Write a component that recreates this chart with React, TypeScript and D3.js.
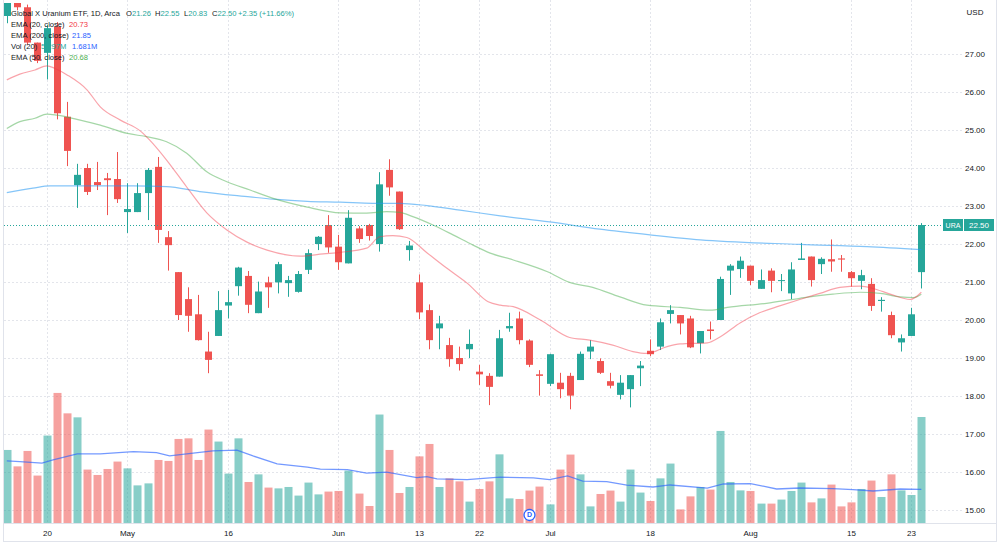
// URA daily candlestick chart with EMAs and volume, drawn with D3
import React, { useEffect, useRef } from 'react';
import * as d3 from 'd3';

// one entry per trading day, Apr 13 -> Aug 24 (index 0..91)
const opens = [
  28.0, 28.45, 28.23, 27.3, 27.03, 27.72, 25.35, 23.55, 24.0, 23.63, 23.73, 23.71,
  22.84, 22.84, 23.34, 24.03, 22.18, 21.26, 20.55, 20.15, 19.17, 19.58, 20.38, 20.89,
  21.16, 20.18, 20.99, 20.99, 20.97, 20.74, 21.32, 22.0, 22.5, 21.93, 21.49, 22.41,
  22.5, 22.0, 23.95, 23.38, 21.84, 20.99, 20.26, 19.78, 19.34, 19.0, 19.23, 18.64,
  18.53, 18.51, 19.78, 20.04, 19.46, 18.57, 18.32, 18.35, 18.53, 18.42, 19.17, 18.92,
  18.39, 18.03, 18.18, 18.73, 19.19, 19.3, 20.16, 20.13, 20.04, 19.39, 19.75, 20.0,
  21.3, 21.34, 21.43, 20.82, 21.3, 21.03, 20.7, 21.58, 21.67, 21.47, 21.6, 21.62,
  21.26, 21.03, 20.95, 20.5, 20.13, 19.41, 19.58, 21.26,
];
const highs = [
  28.5, 28.5, 28.3, 27.3, 27.76, 27.84, 25.74, 24.11, 24.11, 24.16, 23.87, 24.42,
  23.6, 23.6, 24.0, 24.29, 22.34, 21.26, 20.86, 20.66, 19.69, 20.76, 20.79, 21.4,
  21.29, 21.01, 21.14, 21.53, 21.16, 21.29, 21.86, 22.21, 22.76, 22.24, 22.89, 22.47,
  22.53, 23.89, 24.23, 23.38, 22.08, 21.2, 20.41, 20.11, 19.53, 19.3, 19.75, 18.82,
  18.6, 19.74, 20.19, 20.22, 19.49, 18.68, 19.11, 18.61, 18.61, 19.17, 19.47, 18.99,
  18.61, 18.55, 18.55, 18.92, 19.49, 20.04, 20.39, 20.13, 20.11, 19.71, 19.96, 21.14,
  21.47, 21.67, 21.43, 21.33, 21.36, 21.21, 21.52, 22.03, 21.67, 21.65, 22.12, 21.71,
  21.29, 21.32, 21.1, 20.6, 20.22, 19.62, 20.32, 22.55,
];
const lows = [
  27.81, 28.15, 27.25, 26.76, 26.33, 25.28, 24.05, 22.95, 23.29, 23.42, 22.76, 23.08,
  22.29, 22.84, 22.63, 22.03, 21.3, 20.0, 19.69, 19.46, 18.6, 19.58, 20.04, 20.64,
  20.18, 20.18, 20.32, 20.7, 20.61, 20.72, 21.21, 21.84, 21.77, 21.32, 21.49, 22.03,
  22.09, 21.8, 23.27, 22.37, 21.56, 20.02, 19.23, 19.23, 18.77, 18.67, 19.0, 18.29,
  17.76, 18.51, 19.69, 19.36, 18.76, 18.01, 18.26, 17.94, 17.65, 18.42, 18.97, 18.58,
  18.2, 17.91, 17.7, 18.26, 19.05, 19.21, 19.91, 19.62, 19.26, 19.12, 19.49, 20.0,
  20.66, 21.11, 20.92, 20.82, 20.73, 20.76, 20.55, 21.58, 20.88, 21.21, 21.27, 21.27,
  20.88, 20.81, 20.24, 20.22, 19.52, 19.17, 19.58, 20.83,
];
const closes = [
  28.45, 28.23, 27.3, 26.82, 27.68, 25.44, 24.45, 23.82, 23.37, 23.55, 23.68, 23.18,
  22.92, 23.34, 23.95, 22.37, 21.97, 20.13, 20.11, 19.47, 18.95, 20.26, 20.47, 21.38,
  20.4, 20.75, 20.86, 21.47, 21.05, 21.21, 21.76, 22.19, 21.91, 21.52, 22.69, 22.13,
  22.21, 23.57, 23.49, 22.39, 21.96, 20.2, 19.47, 19.91, 18.97, 18.84, 19.37, 18.57,
  18.24, 19.52, 19.84, 19.47, 18.82, 18.53, 19.1, 18.18, 18.01, 19.11, 19.3, 18.61,
  18.27, 18.35, 18.55, 18.8, 19.1, 19.94, 20.26, 19.91, 19.28, 19.71, 19.71, 21.08,
  21.43, 21.56, 21.03, 21.05, 21.03, 21.05, 21.33, 21.62, 21.05, 21.61, 21.54, 21.59,
  21.1, 21.18, 20.37, 20.53, 19.6, 19.52, 20.15, 22.5,
];
// volume, millions
const volumes = [
  3.65, 2.83, 3.6, 2.37, 4.37, 6.5, 5.48, 5.28, 2.67, 2.4, 2.7, 3.07,
  2.73, 1.88, 1.98, 3.15, 3.1, 4.2, 4.23, 3.15, 4.67, 4.07, 2.47, 4.23,
  2.05, 2.43, 1.77, 1.73, 1.8, 1.37, 2.02, 1.43, 1.57, 1.6, 2.62, 1.47,
  0.85, 5.42, 3.65, 1.5, 1.8, 3.33, 3.95, 1.8, 2.23, 2.08, 1.07, 1.7,
  2.08, 3.43, 1.23, 1.2, 1.62, 1.82, 0.93, 2.67, 3.42, 2.43, 0.83, 1.45,
  1.62, 1.07, 2.67, 1.52, 1.1, 2.23, 2.97, 0.68, 1.33, 1.8, 1.67, 4.6,
  2.05, 1.63, 1.6, 0.97, 0.97, 1.17, 1.6, 2.02, 1.03, 1.23, 1.92, 0.83,
  1.03, 1.7, 2.12, 1.3, 2.43, 1.63, 1.4, 5.297,
];

// indicator lines as [bar index, value]
const ema20: [number, number][] = [
  [0, 26.32], [1.3, 26.47], [2.8, 26.58], [4, 26.69], [4.8, 26.62], [6, 26.45], [8, 26.05],
  [9.3, 25.61], [11.3, 25.26], [13.3, 24.97], [14.2, 24.74], [15.9, 24.21], [17.9, 23.5],
  [19.9, 22.82], [21.9, 22.37], [23.9, 22.05], [25.9, 21.84], [29.2, 21.68], [31.5, 21.74],
  [33.2, 21.78], [35.8, 21.89], [37.1, 22.19], [38.4, 22.22], [39.8, 22.17], [41.8, 21.77],
  [43.8, 21.36], [45.8, 20.97], [47.9, 20.48], [49.1, 20.39], [50.4, 20.35], [53.1, 20.0],
  [56, 19.54], [58, 19.47], [60.3, 19.34], [62.3, 19.17], [63.7, 19.12], [65.7, 19.3],
  [67, 19.37], [69.7, 19.4], [71, 19.56], [73, 19.93], [74.9, 20.19], [76.9, 20.37],
  [78.9, 20.54], [80.9, 20.7], [82.9, 20.86], [84.9, 20.89], [86.2, 20.83], [87.9, 20.68],
  [89.9, 20.54], [91, 20.73],
];
const ema50: [number, number][] = [
  [0, 25.04], [1.3, 25.22], [2.8, 25.31], [4, 25.42], [5, 25.39], [7.3, 25.26], [9.3, 25.13],
  [12, 24.91], [14, 24.82], [15.9, 24.69], [17.9, 24.39], [19.9, 23.9], [21.9, 23.64],
  [24.2, 23.42], [26.5, 23.2], [29.9, 22.97], [33.2, 22.82], [35.8, 22.81], [37.8, 22.85],
  [39.1, 22.83], [40.4, 22.72], [42.4, 22.5], [44.4, 22.24], [46.4, 21.97], [48.1, 21.76],
  [50.4, 21.58], [53.8, 21.27], [56, 20.99], [58.3, 20.86], [61, 20.61], [63.7, 20.39],
  [67, 20.33], [70, 20.26], [71.7, 20.33], [75.6, 20.44], [78.9, 20.57], [82.2, 20.68],
  [84.9, 20.73], [86.9, 20.7], [88.9, 20.61], [90.2, 20.59], [91, 20.68],
];
const ema200: [number, number][] = [
  [0, 23.35], [2.6, 23.47], [4.3, 23.53], [7.6, 23.53], [12.6, 23.53], [15.9, 23.51],
  [19.2, 23.38], [24.2, 23.24], [26.5, 23.18], [29.9, 23.12], [33.2, 23.1], [36.4, 23.07],
  [39.1, 23.07], [41.8, 23.01], [45.1, 22.89], [49.1, 22.74], [54, 22.58], [59, 22.39],
  [64, 22.24], [69, 22.11], [78.9, 21.99], [85.6, 21.93], [91, 21.85],
];
const volMa: [number, number][] = [
  [0, 3.1], [1.3, 3.07], [3.5, 2.99], [4.6, 3.15], [7, 3.45], [9.3, 3.45], [12.6, 3.57],
  [14.9, 3.52], [16.2, 3.35], [17.9, 3.45], [20.5, 3.6], [22.9, 3.64], [24.5, 3.35],
  [26.9, 2.95], [29.9, 2.79], [31.2, 2.69], [33.9, 2.67], [35.8, 2.49], [37.8, 2.54],
  [40.8, 2.27], [41.8, 2.32], [42.8, 2.2], [45.8, 2.17], [48.4, 2.27], [49.1, 2.29],
  [52.4, 2.25], [54, 2.17], [55.8, 2.35], [57.3, 2.09], [59.7, 2.07], [61.7, 1.89],
  [64.3, 1.8], [66, 1.9], [69.7, 1.74], [71.3, 1.95], [74, 1.97], [76.6, 1.7], [78.9, 1.75],
  [82.2, 1.72], [84.2, 1.67], [86.2, 1.6], [88.9, 1.7], [91, 1.681],
];

const dateTickIdx = [4, 12, 22, 33, 41, 47, 54, 64, 74, 84, 90];
const dateTickLabels = ['20', 'May', '16', 'Jun', '13', '22', 'Jul', '18', 'Aug', '15', '23'];
const priceTicks = [15, 16, 17, 18, 19, 20, 21, 22, 23, 24, 25, 26, 27];
const dividendIdx = 52;

const UP = '#26a69a';
const DOWN = '#ef5350';
const FONT = '"Liberation Sans", Arial, sans-serif';

const App: React.FC = () => {
  const ref = useRef<SVGSVGElement>(null);

  useEffect(() => {
    if (!ref.current) return;
    const svg = d3.select(ref.current);
    svg.selectAll('*').remove();

    const width = 1000;
    const height = 545;
    const pane = { left: 4, right: 963, top: 3, bottom: 523 };

    const x = d3.scaleLinear().domain([4, 90]).range([47, 911.3]);
    const y = d3.scaleLinear().domain([15, 27]).range([510, 54]);
    const yVol = d3.scaleLinear().domain([0, 5.297]).range([523, 417]);
    const cx = (i: number) => Math.round(x(i)) + 0.5;

    svg.attr('width', width).attr('height', height);
    svg.append('rect').attr('width', width).attr('height', height).attr('fill', '#ffffff');

    svg.append('defs').append('clipPath').attr('id', 'pane-clip')
      .append('rect')
      .attr('x', pane.left).attr('y', pane.top)
      .attr('width', pane.right - pane.left).attr('height', pane.bottom - pane.top);

    const grid = svg.append('g');
    grid.selectAll('.hgrid')
      .data(priceTicks)
      .enter()
      .append('line')
      .attr('x1', pane.left).attr('x2', pane.right)
      .attr('y1', d => Math.round(y(d)) + 0.5).attr('y2', d => Math.round(y(d)) + 0.5)
      .attr('stroke', '#e3e5eb').attr('stroke-dasharray', '2,2');
    grid.selectAll('.vgrid')
      .data(dateTickIdx)
      .enter()
      .append('line')
      .attr('x1', d => cx(d)).attr('x2', d => cx(d))
      .attr('y1', 0).attr('y2', pane.bottom)
      .attr('stroke', '#e3e5eb').attr('stroke-dasharray', '2,2');

    const g = svg.append('g').attr('clip-path', 'url(#pane-clip)');

    // Volume
    g.selectAll('.vol')
      .data(volumes)
      .enter()
      .append('rect')
      .attr('x', (_, i) => cx(i) - 4)
      .attr('width', 8)
      .attr('y', d => yVol(d))
      .attr('height', d => yVol(0) - yVol(d))
      .attr('fill', (_, i) => (closes[i] >= opens[i] ? UP : DOWN))
      .attr('fill-opacity', 0.55);

    g.append('path')
      .datum(volMa)
      .attr('fill', 'none')
      .attr('stroke', '#2962ff')
      .attr('stroke-opacity', 0.65)
      .attr('stroke-width', 1.3)
      .attr('d', d3.line<[number, number]>().x(d => x(d[0])).y(d => yVol(d[1])));

    // Candles
    const candles = g.selectAll('.candle')
      .data(opens.map((o, i) => ({ i, o, h: highs[i], l: lows[i], c: closes[i] })))
      .enter()
      .append('g');
    candles.append('line')
      .attr('x1', d => cx(d.i)).attr('x2', d => cx(d.i))
      .attr('y1', d => y(d.h)).attr('y2', d => y(d.l))
      .attr('stroke', d => (d.c >= d.o ? UP : DOWN))
      .attr('stroke-width', 1);
    candles.append('rect')
      .attr('x', d => cx(d.i) - 3.5)
      .attr('width', 7)
      .attr('y', d => y(Math.max(d.o, d.c)))
      .attr('height', d => Math.max(1, Math.abs(y(d.o) - y(d.c))))
      .attr('fill', d => (d.c >= d.o ? UP : DOWN));

    // EMA lines
    const emaLine = d3.line<[number, number]>()
      .x(d => x(d[0]))
      .y(d => y(d[1]))
      .curve(d3.curveMonotoneX);
    const emas: { data: [number, number][]; color: string; opacity: number }[] = [
      { data: ema200, color: '#2196f3', opacity: 0.55 },
      { data: ema50, color: '#4caf50', opacity: 0.5 },
      { data: ema20, color: '#f23645', opacity: 0.45 },
    ];
    emas.forEach(e => {
      g.append('path')
        .datum(e.data)
        .attr('fill', 'none')
        .attr('stroke', e.color)
        .attr('stroke-opacity', e.opacity)
        .attr('stroke-width', 1.2)
        .attr('d', emaLine);
    });

    // last price line
    const last = closes[closes.length - 1];
    const yLast = Math.round(y(last)) + 0.5;
    svg.append('line')
      .attr('x1', pane.left).attr('x2', 943)
      .attr('y1', yLast).attr('y2', yLast)
      .attr('stroke', UP).attr('stroke-dasharray', '1,2');

    // dividend marker
    const dv = svg.append('g').attr('transform', `translate(${cx(dividendIdx)},515)`);
    dv.append('circle').attr('r', 5.5).attr('fill', '#ffffff').attr('stroke', '#2962ff').attr('stroke-width', 1.3);
    dv.append('text')
      .attr('text-anchor', 'middle').attr('dy', '0.35em')
      .style('font-family', FONT).style('font-size', '7px').style('font-weight', 'bold')
      .attr('fill', '#2962ff').text('D');

    // frame
    svg.append('line').attr('x1', pane.left).attr('x2', 997)
      .attr('y1', pane.bottom + 0.5).attr('y2', pane.bottom + 0.5).attr('stroke', '#e0e3eb');
    svg.append('line').attr('x1', pane.left).attr('x2', 997)
      .attr('y1', 541.5).attr('y2', 541.5).attr('stroke', '#e0e3eb');
    svg.append('line').attr('x1', pane.left - 0.5).attr('x2', pane.left - 0.5)
      .attr('y1', 0).attr('y2', 542).attr('stroke', '#e0e3eb');
    svg.append('line').attr('x1', 996.5).attr('x2', 996.5)
      .attr('y1', 0).attr('y2', 542).attr('stroke', '#e0e3eb');

    // price scale
    svg.selectAll('.ptick')
      .data(priceTicks)
      .enter()
      .append('text')
      .attr('x', 975)
      .attr('y', d => y(d))
      .attr('dy', '0.35em')
      .attr('text-anchor', 'middle')
      .style('font-family', FONT)
      .style('font-size', '8px')
      .attr('fill', '#131722')
      .text(d => d.toFixed(2));
    svg.append('text')
      .attr('x', 975).attr('y', 12).attr('dy', '0.35em')
      .attr('text-anchor', 'middle')
      .style('font-family', FONT).style('font-size', '8px')
      .attr('fill', '#131722').text('USD');

    svg.append('rect').attr('x', 943).attr('y', yLast - 6.5).attr('width', 20).attr('height', 12)
      .attr('fill', UP);
    svg.append('rect').attr('x', 964).attr('y', yLast - 6.5).attr('width', 30).attr('height', 12)
      .attr('fill', UP);
    svg.append('text').attr('x', 953).attr('y', yLast).attr('dy', '0.35em')
      .attr('text-anchor', 'middle').style('font-family', FONT).style('font-size', '7px')
      .attr('fill', '#ffffff').text('URA');
    svg.append('text').attr('x', 979).attr('y', yLast).attr('dy', '0.35em')
      .attr('text-anchor', 'middle').style('font-family', FONT).style('font-size', '8px')
      .attr('fill', '#ffffff').text(last.toFixed(2));

    // time scale
    svg.selectAll('.dtick')
      .data(dateTickIdx)
      .enter()
      .append('text')
      .attr('x', d => cx(d))
      .attr('y', 533)
      .attr('dy', '0.35em')
      .attr('text-anchor', 'middle')
      .style('font-family', FONT)
      .style('font-size', '8px')
      .attr('fill', '#131722')
      .text((_, k) => dateTickLabels[k]);

    // legend
    const legend = svg.append('g')
      .style('font-family', FONT)
      .style('font-size', '7.6px');
    const put = (tx: number, ty: number, s: string, color: string) =>
      legend.append('text').attr('x', tx).attr('y', ty).attr('fill', color).text(s);

    const o = opens[opens.length - 1];
    const prev = closes[closes.length - 2];
    const change = last - prev;
    put(11, 16, 'Global X Uranium ETF, 1D, Arca', '#131722');
    const ohlc: [number, string, number][] = [
      [126, 'O', o], [155, 'H', highs[highs.length - 1]],
      [184, 'L', lows[lows.length - 1]], [212, 'C', last],
    ];
    ohlc.forEach(([tx, k, v]) => {
      const t = legend.append('text').attr('x', tx).attr('y', 16);
      t.append('tspan').attr('fill', '#131722').text(k);
      t.append('tspan').attr('fill', UP).text(v.toFixed(2));
    });
    put(238, 16, `+${change.toFixed(2)} (+${((change / prev) * 100).toFixed(2)}%)`, UP);

    put(11, 27, 'EMA (20, close)', '#131722');
    put(69, 27, ema20[ema20.length - 1][1].toFixed(2), '#f23645');
    put(11, 38, 'EMA (200, close)', '#131722');
    put(72, 38, ema200[ema200.length - 1][1].toFixed(2), '#2962ff');
    put(11, 49, 'Vol (20)', '#131722');
    put(41, 49, `${volumes[volumes.length - 1].toFixed(3)}M`, UP);
    put(72, 49, `${volMa[volMa.length - 1][1].toFixed(3)}M`, '#2962ff');
    put(11, 60, 'EMA (50, close)', '#131722');
    put(69, 60, ema50[ema50.length - 1][1].toFixed(2), '#4caf50');
  }, []);

  return (
    <div style={{ position: 'absolute', left: 0, top: 0 }}>
      <svg ref={ref} style={{ display: 'block' }}></svg>
    </div>
  );
};

export default App;
